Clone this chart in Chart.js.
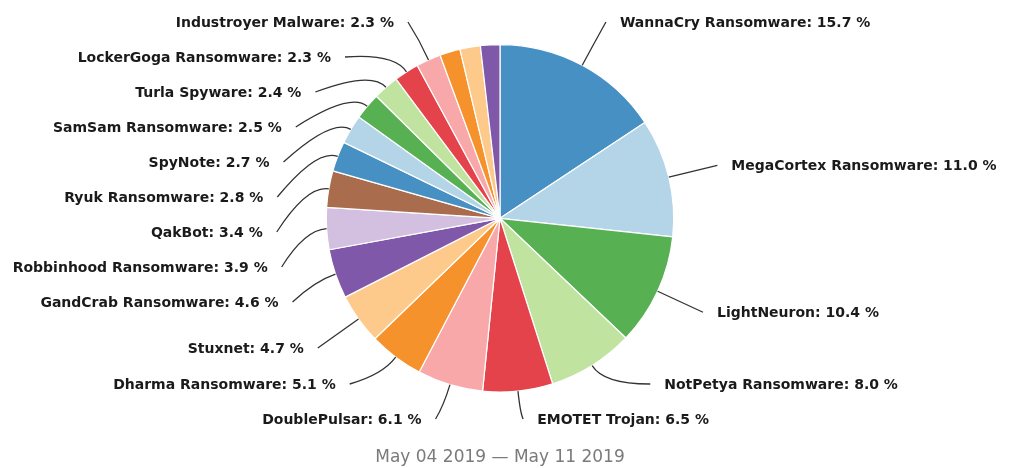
<!DOCTYPE html>
<html>
<head>
<meta charset="utf-8">
<script src="https://cdn.jsdelivr.net/npm/chart.js@4"></script>
<style>
  html, body { margin: 0; padding: 0; background: #fff; }
  .chart-container { position: relative; width: 1024px; height: 468px; }
</style>
</head>
<body>
<div class="chart-container"><canvas id="threatChart"></canvas></div>
<script>
const threatNames = [
    'WannaCry Ransomware', 'MegaCortex Ransomware', 'LightNeuron', 'NotPetya Ransomware',
    'EMOTET Trojan', 'DoublePulsar', 'Dharma Ransomware', 'Stuxnet', 'GandCrab Ransomware',
    'Robbinhood Ransomware', 'QakBot', 'Ryuk Ransomware', 'SpyNote', 'SamSam Ransomware',
    'Turla Spyware', 'LockerGoga Ransomware', 'Industroyer Malware',
    'Other 1', 'Other 2', 'Other 3'
];
const shares = [15.7, 11.0, 10.4, 8.0, 6.5, 6.1, 5.1, 4.7, 4.6, 3.9, 3.4, 2.8, 2.7, 2.5, 2.4, 2.3, 2.3, 1.9, 1.9, 1.8];
const palette = ['#4690c4', '#b4d5e8', '#57b153', '#c0e4a0', '#e5434b', '#f9a8aa',
                 '#f6922b', '#fdca8b', '#8058aa', '#d3bfe0', '#a96c4c'];
const periodLabel = 'May 04 2019 \u2014 May 11 2019';

// labels outside the pie with curved leader lines
const outerLabels = {
    id: 'outerLabels',
    afterDatasetsDraw(chart) {
        const ctx = chart.ctx;
        const arcs = chart.getDatasetMeta(0).data;
        const total = shares.reduce((a, b) => a + b, 0);
        const top = 22, bottom = 419, gap = 35;
        const items = [];

        arcs.forEach((arc, i) => {
            const pct = shares[i] / total * 100;
            if (pct < 2) return;
            const mid = (arc.startAngle + arc.endAngle) / 2;
            const r = arc.outerRadius;
            const lr = r + 50;
            items.push({
                mid, r, lr, cx: arc.x, cy: arc.y,
                x: arc.x + Math.cos(mid) * lr,
                y: arc.y + Math.sin(mid) * lr,
                right: Math.cos(mid) >= 0,
                text: `${threatNames[i]}: ${pct.toFixed(1)} %`
            });
        });

        [true, false].forEach(side => {
            const list = items.filter(d => d.right === side).sort((a, b) => a.y - b.y);
            list.forEach(d => { d.ny = d.y; });
            for (let k = 0; k < list.length; k++) {
                const d = list[k];
                if (k === 0) d.ny = Math.max(d.ny, top);
                else d.ny = Math.max(d.ny, list[k - 1].ny + gap);
            }
            for (let k = list.length - 1; k >= 0; k--) {
                const d = list[k];
                if (k === list.length - 1) d.ny = Math.min(d.ny, bottom);
                else d.ny = Math.min(d.ny, list[k + 1].ny - gap);
            }
            list.forEach(d => {
                const clamped = Math.min(Math.max(d.y, top), bottom);
                if (Math.abs(d.ny - clamped) > 0.5) {
                    const dy = d.ny - d.cy;
                    const dx = Math.sqrt(Math.max(d.lr * d.lr - dy * dy, 0));
                    d.nx = d.cx + (d.right ? dx : -dx);
                } else {
                    d.nx = d.x;
                }
            });
        });

        ctx.save();
        ctx.font = 'bold 14px "DejaVu Sans", sans-serif';
        ctx.textBaseline = 'middle';
        items.forEach(d => {
            const c = Math.cos(d.mid), s = Math.sin(d.mid);
            ctx.beginPath();
            ctx.moveTo(d.cx + c * d.r, d.cy + s * d.r);
            ctx.quadraticCurveTo(d.cx + c * (d.r + 22), d.cy + s * (d.r + 22), d.nx, d.ny);
            ctx.strokeStyle = '#333';
            ctx.lineWidth = 1.3;
            ctx.stroke();

            ctx.fillStyle = '#1a1a1a';
            ctx.textAlign = d.right ? 'left' : 'right';
            ctx.fillText(d.text, d.nx + (d.right ? 14 : -14), d.ny + 1);
        });
        ctx.restore();
    }
};

const ctx = document.getElementById('threatChart').getContext('2d');
new Chart(ctx, {
    type: 'pie',
    data: {
        labels: threatNames,
        datasets: [{
            data: shares,
            backgroundColor: shares.map((_, i) => palette[i % palette.length]),
            borderColor: '#ffffff',
            borderWidth: 1.2
        }]
    },
    options: {
        responsive: true,
        maintainAspectRatio: false,
        animation: false,
        layout: { padding: { top: 44, bottom: 0, left: 300, right: 324 } },
        plugins: {
            legend: { display: false },
            tooltip: { enabled: false },
            title: {
                display: true,
                position: 'bottom',
                text: periodLabel,
                color: '#7a7a7a',
                font: { family: '"DejaVu Sans", sans-serif', size: 17, weight: 'normal' },
                padding: { top: 55, bottom: 0 }
            }
        }
    },
    plugins: [outerLabels]
});
</script>
</body>
</html>
